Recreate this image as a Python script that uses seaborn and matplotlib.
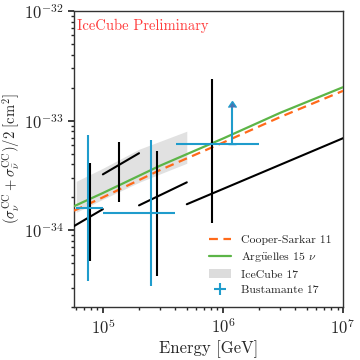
import matplotlib
matplotlib.use("Agg")
import matplotlib.pyplot as plt
import numpy as np
import pandas as pd
import seaborn as sns
from matplotlib.patches import Patch

# model curves
energy_model = [5.75e4, 1e5, 3e5, 1e6, 3e6, 1e7]
sigma_cs11 = [1.51e-34, 2.00e-34, 3.55e-34, 6.31e-34, 1.08e-33, 1.87e-33]
sigma_ag15 = [1.66e-34, 2.19e-34, 3.89e-34, 6.87e-34, 1.18e-33, 2.02e-33]

# IceCube 17 band
energy_band = [6e4, 1e5, 2e5, 5e5]
band_lo = [1.46e-34, 1.92e-34, 2.74e-34, 4.09e-34]
band_hi = [2.80e-34, 3.68e-34, 5.49e-34, 8.02e-34]

# IceCube preliminary (black)
ic_energy = [7.8e4, 1.36e5, 2.8e5, 8.1e5]
ic_sigma = [1.34e-34, 3.93e-34, 2.05e-34, 2.22e-34]
ic_sigma_lo = [5.3e-35, 1.80e-34, 3.8e-35, 1.16e-34]
ic_sigma_hi = [4.09e-34, 6.37e-34, 5.26e-34, 2.39e-33]
ic_e_lo = [5e4, 1e5, 2e5, 5e5]
ic_e_hi = [1e5, 2e5, 5e5, 1e7]
ic_diag_lo = [1.00e-34, 3.24e-34, 1.69e-34, 1.73e-34]
ic_diag_hi = [1.56e-34, 5.05e-34, 2.74e-34, 6.92e-34]

# Bustamante 17 (blue)
bu_energy = [7.5e4, 2.5e5]
bu_sigma = [1.59e-34, 1.43e-34]
bu_sigma_lo = [3.42e-35, 3.08e-35]
bu_sigma_hi = [7.38e-34, 6.64e-34]
bu_e_lo = [6e4, 1e5]
bu_e_hi = [1e5, 4e5]
# lower limit point
bu_lim_energy = [1.2e6]
bu_lim_sigma = [6.1e-34]
bu_lim_top = [1.33e-33]
bu_lim_e_lo = [4.06e5]
bu_lim_e_hi = [2e6]

sns.set_theme(style="ticks")
plt.rcParams["font.family"] = ["cmr10", "DejaVu Serif"]
plt.rcParams["mathtext.fontset"] = "cm"
plt.rcParams["axes.formatter.use_mathtext"] = True

c_orange = "#ff6a1a"
c_green = "#5cb547"
c_blue = "#1f9ccc"
c_band = "#dcdcdc"

fig = plt.figure(figsize=(3.6, 3.6), dpi=100)
ax = fig.add_axes([0.2056, 0.1472, 0.7472, 0.8222])

ax.fill_between(energy_band, band_lo, band_hi, color=c_band, lw=0, alpha=0.85, zorder=1)

df_model = pd.DataFrame({
    "energy": energy_model * 2,
    "sigma": sigma_cs11 + sigma_ag15,
    "model": ["cs11"] * len(energy_model) + ["ag15"] * len(energy_model),
})
sns.lineplot(data=df_model[df_model["model"] == "ag15"], x="energy", y="sigma",
             color=c_green, lw=1.6, ax=ax, zorder=3)
sns.lineplot(data=df_model[df_model["model"] == "cs11"], x="energy", y="sigma",
             color=c_orange, lw=1.6, ls=(0, (4, 2.5)), ax=ax, zorder=3)

# black bins
ic_e = np.array(ic_energy)
ic_s = np.array(ic_sigma)
ax.errorbar(ic_e, ic_s, yerr=[ic_s - np.array(ic_sigma_lo), np.array(ic_sigma_hi) - ic_s],
            fmt="none", ecolor="black", elinewidth=1.5, zorder=4)
for e0, e1, s0, s1 in zip(ic_e_lo, ic_e_hi, ic_diag_lo, ic_diag_hi):
    ax.plot([e0, e1], [s0, s1], color="black", lw=1.5, zorder=4)

# blue points
bu_e = np.array(bu_energy)
bu_s = np.array(bu_sigma)
eb = ax.errorbar(bu_e, bu_s,
                 xerr=[bu_e - np.array(bu_e_lo), np.array(bu_e_hi) - bu_e],
                 yerr=[bu_s - np.array(bu_sigma_lo), np.array(bu_sigma_hi) - bu_s],
                 fmt="none", ecolor=c_blue, elinewidth=1.5, zorder=5)
le = np.array(bu_lim_energy)
ls_ = np.array(bu_lim_sigma)
ax.errorbar(le, ls_, xerr=[le - np.array(bu_lim_e_lo), np.array(bu_lim_e_hi) - le],
            fmt="none", ecolor=c_blue, elinewidth=1.5, zorder=5)
ax.errorbar(le, ls_, yerr=[np.zeros(1), np.array(bu_lim_top) - ls_], lolims=True,
            fmt="none", ecolor=c_blue, elinewidth=1.5, capsize=3, zorder=5)

ax.set_xscale("log")
ax.set_yscale("log")
ax.set_xlim(5.75e4, 1e7)
ax.set_ylim(2e-35, 1e-32)
ax.set_xlabel("Energy [GeV]", fontsize=12, labelpad=2)
ax.set_ylabel(r"$(\sigma_\nu^{\rm CC} + \sigma_{\bar{\nu}}^{\rm CC})/2\ [{\rm cm}^2]$",
              fontsize=10.5, labelpad=1)
ax.tick_params(axis="both", which="major", labelsize=12, length=4, direction="out")
ax.tick_params(axis="both", which="minor", length=2.5, direction="out")
for sp in ax.spines.values():
    sp.set_color("#333333")
    sp.set_linewidth(1.0)

ax.text(0.012, 0.975, "IceCube Preliminary", transform=ax.transAxes, color="#ff3b3b",
        fontsize=10.5, ha="left", va="top")

handles = [
    plt.Line2D([], [], color=c_orange, lw=1.6, ls=(0, (4, 2.5))),
    plt.Line2D([], [], color=c_green, lw=1.6),
    Patch(facecolor=c_band, edgecolor="none"),
    eb,
]
labels = ["Cooper-Sarkar 11", r"Arg$\mathrm{\ddot{u}}$elles 15 $\nu$", "IceCube 17", "Bustamante 17"]
ax.legend(handles, labels, loc="lower right", frameon=False, fontsize=8.5,
          handlelength=1.9, borderaxespad=0.6, labelspacing=0.45)

fig.savefig("out.png", dpi=100)
